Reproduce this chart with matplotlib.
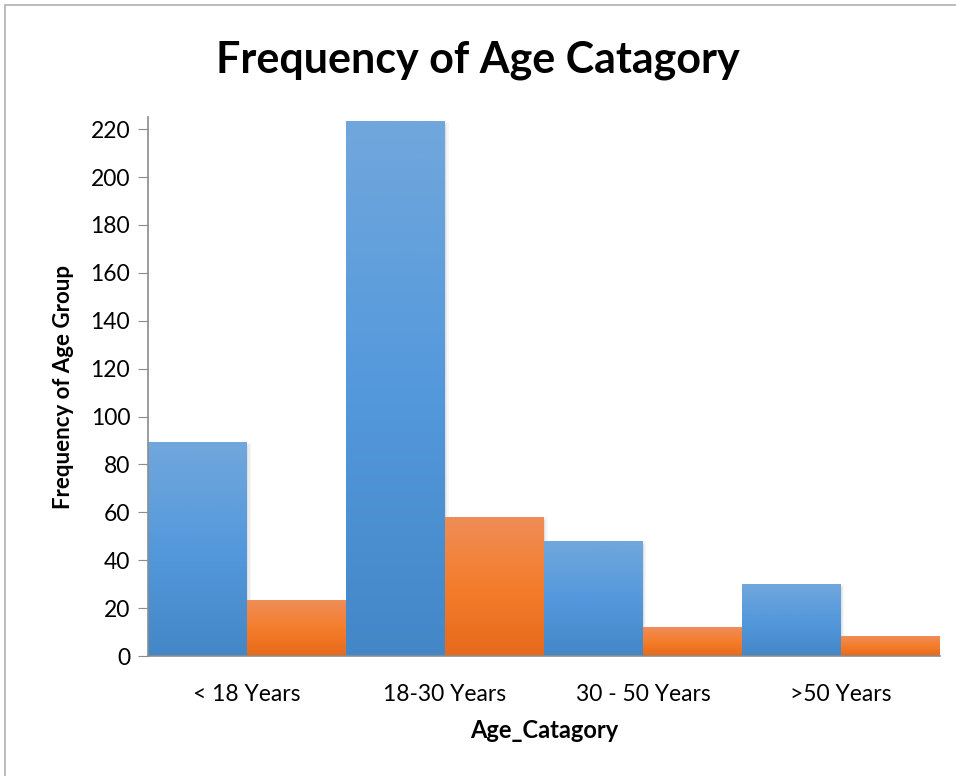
import numpy as np
import matplotlib
matplotlib.use("Agg")
import matplotlib.pyplot as plt
from matplotlib.patches import Rectangle
from matplotlib.colors import LinearSegmentedColormap

plt.rcParams["font.family"] = ["Lato", "DejaVu Sans"]

categories = ["< 18 Years", "18-30 Years", "30 - 50 Years", ">50 Years"]
blue_counts = [89, 223, 48, 30]
orange_counts = [23, 58, 12, 8]
y_ticks = [0, 20, 40, 60, 80, 100, 120, 140, 160, 180, 200, 220]

blue_cmap = LinearSegmentedColormap.from_list("b", ["#4387c7", "#5499dc", "#71a7dc"])
orange_cmap = LinearSegmentedColormap.from_list("o", ["#e66a1b", "#f47d2c", "#ef8d58"])

fig = plt.figure(figsize=(9.56, 7.76), dpi=100)
ax = fig.add_axes([0.155, 0.1546, 0.828, 0.6944])

x = np.arange(len(categories))
w = 0.5
grad = np.linspace(0, 1, 256).reshape(-1, 1)


def gradient_bars(xs, vals, cmap):
    bars = ax.bar(xs, vals, width=w, color="none", edgecolor="none", zorder=2)
    for b in bars:
        x0, y0 = b.get_x(), b.get_y()
        bw, bh = b.get_width(), b.get_height()
        # soft shadow
        for k, a in enumerate([0.05, 0.04, 0.03]):
            ax.add_patch(Rectangle((x0 + 0.006 * (k + 1), y0), bw, bh + 0.6 * (k + 1) - 0.6 * 3,
                                   facecolor="black", alpha=a, edgecolor="none", zorder=1.5))
        ax.imshow(grad, cmap=cmap, origin="lower", aspect="auto",
                  extent=(x0, x0 + bw, y0, y0 + bh), zorder=2)


gradient_bars(x - w / 2, blue_counts, blue_cmap)
gradient_bars(x + w / 2, orange_counts, orange_cmap)

ax.set_xlim(-0.5, len(categories) - 0.5)
ax.set_ylim(0, 225)
ax.set_yticks(y_ticks)
ax.set_xticks(x)
ax.set_xticklabels(categories, fontsize=16.5)
ax.tick_params(axis="y", labelsize=16.5, length=7, color="#8c8c8c", direction="out", pad=6)
ax.tick_params(axis="x", length=0, pad=20)

for s in ["top", "right"]:
    ax.spines[s].set_visible(False)
for s in ["left", "bottom"]:
    ax.spines[s].set_color("#8c8c8c")
    ax.spines[s].set_linewidth(1.2)

ax.set_xlabel("Age_Catagory", fontsize=17, fontweight="bold", labelpad=10)
ax.set_ylabel("Frequency of Age Group", fontsize=16, fontweight="bold", labelpad=12)
fig.suptitle("Frequency of Age Catagory", fontsize=31, fontweight="bold", y=0.948)

fig.patches.append(Rectangle((5 / 956, -0.1), 1.2, (776 - 5) / 776 + 0.1, transform=fig.transFigure,
                             facecolor="none", edgecolor="#b0b0b0", linewidth=1.2))

fig.savefig("out.png", dpi=100)
